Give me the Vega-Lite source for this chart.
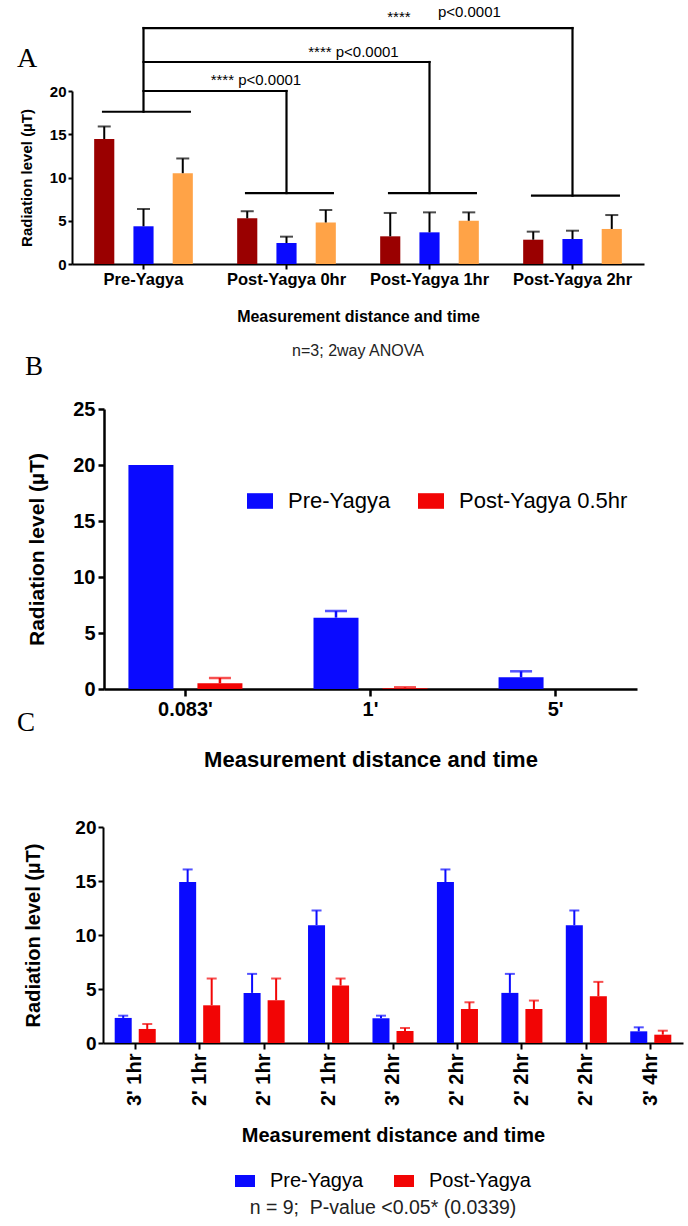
{
  "$schema": "https://vega.github.io/schema/vega-lite/v6.json",
  "padding": {"left": 17, "top": 5, "right": 5, "bottom": 5},
  "bounds": "flush",
  "spacing": 138,
  "resolve": {"scale": {"color": "independent", "xOffset": "independent", "x": "independent", "y": "independent"}, "legend": {"color": "independent"}},
  "title": {"text": "A", "anchor": "start", "frame": "bounds", "font": "Liberation Serif", "fontSize": 28, "fontWeight": "normal", "color": "black", "baseline": "alphabetic", "offset": 0, "dy": 90},
  "config": {
    "view": {"stroke": null},
    "font": "Liberation Sans",
    "axis": {"grid": false, "domainColor": "black", "tickColor": "black", "labelColor": "black", "titleColor": "black", "labelFont": "Liberation Sans", "titleFont": "Liberation Sans", "labelFontWeight": "bold", "titleFontWeight": "bold", "domainWidth": 2, "tickWidth": 2},
    "legend": {"labelFont": "Liberation Sans", "labelColor": "black", "titleFont": "Liberation Sans", "padding": 0, "labelLimit": 400}
  },
  "datasets": {
    "groupA": [
      {"group": "Pre-Yagya", "series": "Series 1", "mean": 14.45, "upper": 15.9},
      {"group": "Pre-Yagya", "series": "Series 2", "mean": 4.36, "upper": 6.36},
      {"group": "Pre-Yagya", "series": "Series 3", "mean": 10.5, "upper": 12.2},
      {"group": "Post-Yagya 0hr", "series": "Series 1", "mean": 5.28, "upper": 6.1},
      {"group": "Post-Yagya 0hr", "series": "Series 2", "mean": 2.43, "upper": 3.16},
      {"group": "Post-Yagya 0hr", "series": "Series 3", "mean": 4.8, "upper": 6.24},
      {"group": "Post-Yagya 1hr", "series": "Series 1", "mean": 3.2, "upper": 5.9},
      {"group": "Post-Yagya 1hr", "series": "Series 2", "mean": 3.66, "upper": 5.97},
      {"group": "Post-Yagya 1hr", "series": "Series 3", "mean": 5.0, "upper": 5.97},
      {"group": "Post-Yagya 2hr", "series": "Series 1", "mean": 2.81, "upper": 3.74},
      {"group": "Post-Yagya 2hr", "series": "Series 2", "mean": 2.89, "upper": 3.85},
      {"group": "Post-Yagya 2hr", "series": "Series 3", "mean": 4.05, "upper": 5.66}
    ],
    "bracketBars": [
      {"group": "Pre-Yagya", "y": 17.6},
      {"group": "Post-Yagya 0hr", "y": 8.2},
      {"group": "Post-Yagya 1hr", "y": 8.2},
      {"group": "Post-Yagya 2hr", "y": 7.9}
    ],
    "stems": [
      {"group": "Pre-Yagya", "low": 17.6, "high": 27.28},
      {"group": "Post-Yagya 0hr", "low": 8.2, "high": 20.0},
      {"group": "Post-Yagya 1hr", "low": 8.2, "high": 23.35},
      {"group": "Post-Yagya 2hr", "low": 7.9, "high": 27.28}
    ],
    "links": [
      {"from": "Pre-Yagya", "to": "Post-Yagya 0hr", "level": 20.0},
      {"from": "Pre-Yagya", "to": "Post-Yagya 1hr", "level": 23.35},
      {"from": "Pre-Yagya", "to": "Post-Yagya 2hr", "level": 27.28}
    ],
    "distB": [
      {"dist": "0.083'", "series": "Pre-Yagya", "mean": 20.0, "upper": 20.0},
      {"dist": "0.083'", "series": "Post-Yagya 0.5hr", "mean": 0.51, "upper": 0.98},
      {"dist": "1'", "series": "Pre-Yagya", "mean": 6.37, "upper": 6.96},
      {"dist": "1'", "series": "Post-Yagya 0.5hr", "mean": 0.06, "upper": 0.15},
      {"dist": "5'", "series": "Pre-Yagya", "mean": 1.05, "upper": 1.58},
      {"dist": "5'", "series": "Post-Yagya 0.5hr", "mean": 0.0, "upper": 0.0}
    ],
    "timeC": [
      {"slot": "3' 1hr|1", "series": "Pre-Yagya", "mean": 2.32, "upper": 2.53},
      {"slot": "3' 1hr|1", "series": "Post-Yagya", "mean": 1.3, "upper": 1.76},
      {"slot": "2' 1hr|2", "series": "Pre-Yagya", "mean": 14.9, "upper": 16.07},
      {"slot": "2' 1hr|2", "series": "Post-Yagya", "mean": 3.49, "upper": 5.97},
      {"slot": "2' 1hr|3", "series": "Pre-Yagya", "mean": 4.64, "upper": 6.4},
      {"slot": "2' 1hr|3", "series": "Post-Yagya", "mean": 3.96, "upper": 5.97},
      {"slot": "2' 1hr|4", "series": "Pre-Yagya", "mean": 10.91, "upper": 12.27},
      {"slot": "2' 1hr|4", "series": "Post-Yagya", "mean": 5.32, "upper": 5.97},
      {"slot": "3' 2hr|5", "series": "Pre-Yagya", "mean": 2.29, "upper": 2.53},
      {"slot": "3' 2hr|5", "series": "Post-Yagya", "mean": 1.11, "upper": 1.39},
      {"slot": "2' 2hr|6", "series": "Pre-Yagya", "mean": 14.9, "upper": 16.07},
      {"slot": "2' 2hr|6", "series": "Post-Yagya", "mean": 3.15, "upper": 3.77},
      {"slot": "2' 2hr|7", "series": "Pre-Yagya", "mean": 4.64, "upper": 6.4},
      {"slot": "2' 2hr|7", "series": "Post-Yagya", "mean": 3.15, "upper": 3.93},
      {"slot": "2' 2hr|8", "series": "Pre-Yagya", "mean": 10.91, "upper": 12.27},
      {"slot": "2' 2hr|8", "series": "Post-Yagya", "mean": 4.33, "upper": 5.66},
      {"slot": "3' 4hr|9", "series": "Pre-Yagya", "mean": 1.08, "upper": 1.45},
      {"slot": "3' 4hr|9", "series": "Post-Yagya", "mean": 0.77, "upper": 1.14}
    ]
  },
  "vconcat": [
    {
      "width": 572,
      "height": 173,
      "title": {"text": "n=3; 2way ANOVA", "orient": "bottom", "anchor": "middle", "frame": "group", "font": "Liberation Sans", "fontSize": 16, "fontWeight": "normal", "color": "#222222", "offset": 18, "baseline": "top"},
      "layer": [
        {
          "data": {"name": "groupA"},
          "mark": {"type": "bar"},
          "encoding": {
            "x": {"field": "group", "type": "nominal", "sort": null,
                  "scale": {"domain": ["Pre-Yagya", "Post-Yagya 0hr", "Post-Yagya 1hr", "Post-Yagya 2hr"], "paddingInner": 0.31, "paddingOuter": 0.155},
                  "axis": {"title": "Measurement distance and time", "labelAngle": 0, "labelFontSize": 16.5, "titleFontSize": 16, "tickSize": 5, "labelPadding": 2, "titlePadding": 21}},
            "xOffset": {"field": "series", "type": "nominal", "scale": {"domain": ["Series 1", "Series 2", "Series 3"], "paddingInner": 0.487, "paddingOuter": 0}},
            "y": {"field": "mean", "type": "quantitative", "scale": {"domain": [0, 20], "nice": false},
                  "axis": {"title": "Radiation level (µT)", "values": [0, 5, 10, 15, 20], "labelFontSize": 15, "titleFontSize": 15, "tickSize": 4, "labelPadding": 2, "titlePadding": 15}},
            "color": {"field": "series", "type": "nominal", "scale": {"domain": ["Series 1", "Series 2", "Series 3"], "range": ["#9a0000", "#0a0aff", "#ffa347"]}, "legend": null}
          }
        },
        {
          "data": {"name": "groupA"},
          "mark": {"type": "rule", "color": "black", "strokeWidth": 2},
          "encoding": {
            "x": {"field": "group", "type": "nominal"},
            "xOffset": {"field": "series", "type": "nominal"},
            "y": {"field": "mean", "type": "quantitative"},
            "y2": {"field": "upper"}
          }
        },
        {
          "data": {"name": "groupA"},
          "mark": {"type": "tick", "color": "black", "thickness": 2, "size": 13},
          "encoding": {
            "x": {"field": "group", "type": "nominal"},
            "xOffset": {"field": "series", "type": "nominal"},
            "y": {"field": "upper", "type": "quantitative"}
          }
        },
        {
          "data": {"name": "bracketBars"},
          "mark": {"type": "rule", "color": "black", "strokeWidth": 2.2, "strokeCap": "square"},
          "encoding": {
            "x": {"field": "group", "type": "nominal", "bandPosition": 0.09},
            "x2": {"field": "group", "bandPosition": 0.97},
            "y": {"field": "y", "type": "quantitative"}
          }
        },
        {
          "data": {"name": "stems"},
          "mark": {"type": "rule", "color": "black", "strokeWidth": 2.2, "strokeCap": "square"},
          "encoding": {
            "x": {"field": "group", "type": "nominal", "bandPosition": 0.5},
            "y": {"field": "low", "type": "quantitative"},
            "y2": {"field": "high"}
          }
        },
        {
          "data": {"name": "links"},
          "mark": {"type": "rule", "color": "black", "strokeWidth": 2.2, "strokeCap": "square"},
          "encoding": {
            "x": {"field": "from", "type": "nominal", "bandPosition": 0.5},
            "x2": {"field": "to", "bandPosition": 0.5},
            "y": {"field": "level", "type": "quantitative"}
          }
        },
        {
          "data": {"values": [
            {"group": "Post-Yagya 0hr", "y": 21.27, "label": "**** p<0.0001"},
            {"group": "Post-Yagya 1hr", "y": 28.5, "label": "****"}
          ]},
          "mark": {"type": "text", "align": "center", "baseline": "middle", "fontSize": 15, "font": "Liberation Sans", "color": "black"},
          "encoding": {
            "x": {"field": "group", "type": "nominal", "bandPosition": 0.19},
            "y": {"field": "y", "type": "quantitative"},
            "text": {"field": "label"}
          }
        },
        {
          "data": {"values": [
            {"group": "Post-Yagya 0hr", "y": 24.5, "label": "****  p<0.0001"}
          ]},
          "mark": {"type": "text", "align": "left", "baseline": "middle", "fontSize": 15, "font": "Liberation Sans", "color": "black"},
          "encoding": {
            "x": {"field": "group", "type": "nominal", "bandPosition": 0.72},
            "y": {"field": "y", "type": "quantitative"},
            "text": {"field": "label"}
          }
        },
        {
          "data": {"values": [
            {"group": "Post-Yagya 1hr", "y": 29.1, "label": "p<0.0001"}
          ]},
          "mark": {"type": "text", "align": "left", "baseline": "middle", "fontSize": 15, "font": "Liberation Sans", "color": "black"},
          "encoding": {
            "x": {"field": "group", "type": "nominal", "bandPosition": 0.585},
            "y": {"field": "y", "type": "quantitative"},
            "text": {"field": "label"}
          }
        }
      ]
    },
    {
      "width": 565,
      "height": 287,
      "title": {"text": "B", "anchor": "start", "frame": "group", "font": "Liberation Serif", "fontSize": 27, "fontWeight": "normal", "color": "black", "baseline": "alphabetic", "offset": 0, "dy": 3, "dx": -47},
      "data": {"name": "distB"},
      "layer": [
        {
          "mark": {"type": "bar"},
          "encoding": {
            "x": {"field": "dist", "type": "nominal", "sort": null,
                  "scale": {"domain": ["0.083'", "1'", "5'"], "range": [32, 565], "paddingInner": 0.384, "paddingOuter": 0.132},
                  "axis": {"title": "Measurement distance and time", "labelAngle": 0, "labelFontSize": 20, "titleFontSize": 22, "tickSize": 7, "labelPadding": 3, "titlePadding": 30, "domainWidth": 2.5, "tickWidth": 2.5}},
            "xOffset": {"field": "series", "type": "nominal", "scale": {"domain": ["Pre-Yagya", "Post-Yagya 0.5hr"], "paddingInner": 0.348, "paddingOuter": 0}},
            "y": {"field": "mean", "type": "quantitative", "scale": {"domain": [0, 25], "range": [287, 7], "nice": false},
                  "axis": {"title": "Radiation level (µT)", "values": [0, 5, 10, 15, 20, 25], "offset": -32, "labelFontSize": 20, "titleFontSize": 21, "tickSize": 6, "labelPadding": 3, "titlePadding": 25, "domainWidth": 2.5, "tickWidth": 2.5}},
            "color": {"field": "series", "type": "nominal", "scale": {"domain": ["Pre-Yagya", "Post-Yagya 0.5hr"], "range": ["#0a0aff", "#f20505"]},
                      "legend": {"orient": "none", "legendX": 175, "legendY": 86, "direction": "horizontal", "title": null, "labelFontSize": 22, "labelLimit": 400, "symbolType": "M-1,-0.6H1V0.6H-1Z", "symbolSize": 676, "symbolStrokeWidth": 0, "symbolOpacity": 1, "labelOffset": 15, "columnPadding": 27}}
          }
        },
        {
          "transform": [{"filter": "datum.upper > datum.mean"}],
          "mark": {"type": "rule", "strokeWidth": 2.5},
          "encoding": {
            "x": {"field": "dist", "type": "nominal"},
            "xOffset": {"field": "series", "type": "nominal"},
            "y": {"field": "mean", "type": "quantitative"},
            "y2": {"field": "upper"},
            "color": {"field": "series", "type": "nominal", "legend": null}
          }
        },
        {
          "transform": [{"filter": "datum.upper > datum.mean"}],
          "mark": {"type": "tick", "thickness": 2.5, "size": 22},
          "encoding": {
            "x": {"field": "dist", "type": "nominal"},
            "xOffset": {"field": "series", "type": "nominal"},
            "y": {"field": "upper", "type": "quantitative"},
            "color": {"field": "series", "type": "nominal", "legend": null}
          }
        }
      ]
    },
    {
      "width": 611,
      "height": 216,
      "title": {"text": "C", "anchor": "start", "frame": "group", "font": "Liberation Serif", "fontSize": 27, "fontWeight": "normal", "color": "black", "baseline": "alphabetic", "offset": 60, "dx": -55},
      "data": {"name": "timeC"},
      "layer": [
        {
          "mark": {"type": "bar"},
          "encoding": {
            "x": {"field": "slot", "type": "nominal", "sort": null,
                  "scale": {"domain": ["3' 1hr|1", "2' 1hr|2", "2' 1hr|3", "2' 1hr|4", "3' 2hr|5", "2' 2hr|6", "2' 2hr|7", "2' 2hr|8", "3' 4hr|9"], "range": [31, 611], "paddingInner": 0.363, "paddingOuter": 0.1815},
                  "axis": {"title": "Measurement distance and time", "labelAngle": -90, "labelExpr": "split(datum.value, '|')[0]", "labelFontSize": 20, "titleFontSize": 20, "tickSize": 6, "labelPadding": 4, "titlePadding": 20}},
            "xOffset": {"field": "series", "type": "nominal", "scale": {"domain": ["Pre-Yagya", "Post-Yagya"], "paddingInner": 0.292, "paddingOuter": 0}},
            "y": {"field": "mean", "type": "quantitative", "scale": {"domain": [0, 20], "nice": false},
                  "axis": {"title": "Radiation level (µT)", "values": [0, 5, 10, 15, 20], "offset": -31, "labelFontSize": 19, "titleFontSize": 20, "tickSize": 5, "labelPadding": 2, "titlePadding": 31}},
            "color": {"field": "series", "type": "nominal", "scale": {"domain": ["Pre-Yagya", "Post-Yagya"], "range": ["#0a0aff", "#f20505"]},
                      "legend": {"orient": "none", "legendX": 163, "legendY": 344, "direction": "horizontal", "labelFontSize": 20, "symbolType": "M-1,-0.6H1V0.6H-1Z", "symbolSize": 400, "symbolStrokeWidth": 0, "symbolOpacity": 1, "labelOffset": 15, "columnPadding": 30,
                                 "title": "n = 9;\u00a0 P-value <0.05* (0.0339)", "titleOrient": "bottom", "titleAnchor": "middle", "titleFontSize": 19.5, "titleFontWeight": "normal", "titleColor": "#222222", "titlePadding": 8, "titleLimit": 600}}
          }
        },
        {
          "transform": [{"filter": "datum.upper > datum.mean"}],
          "mark": {"type": "rule", "strokeWidth": 2},
          "encoding": {
            "x": {"field": "slot", "type": "nominal"},
            "xOffset": {"field": "series", "type": "nominal"},
            "y": {"field": "mean", "type": "quantitative"},
            "y2": {"field": "upper"},
            "color": {"field": "series", "type": "nominal", "legend": null}
          }
        },
        {
          "transform": [{"filter": "datum.upper > datum.mean"}],
          "mark": {"type": "tick", "thickness": 2, "size": 10},
          "encoding": {
            "x": {"field": "slot", "type": "nominal"},
            "xOffset": {"field": "series", "type": "nominal"},
            "y": {"field": "upper", "type": "quantitative"},
            "color": {"field": "series", "type": "nominal", "legend": null}
          }
        }
      ]
    }
  ]
}
